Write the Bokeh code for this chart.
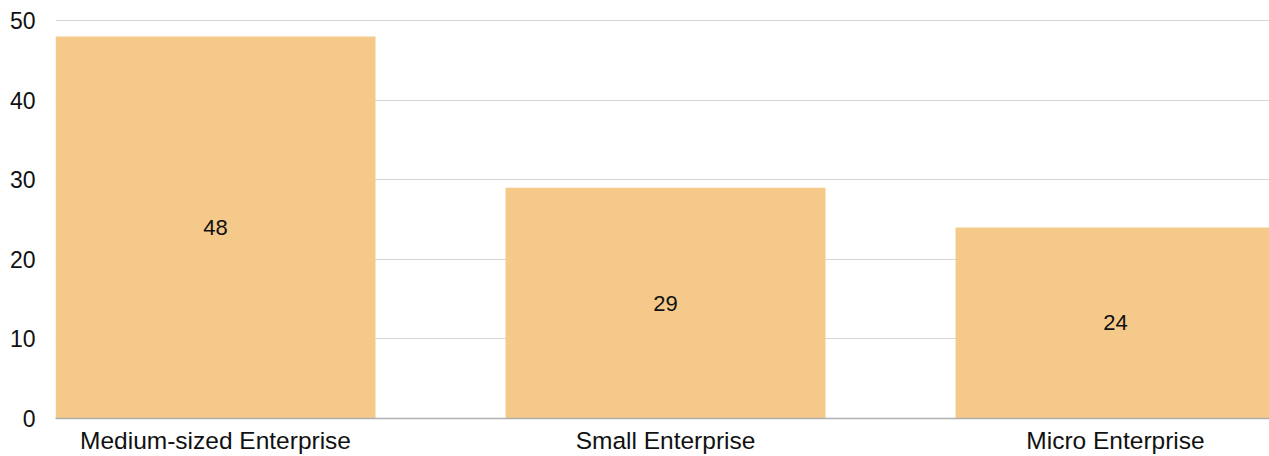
from bokeh.plotting import figure
from bokeh.models import ColumnDataSource, FixedTicker, Range1d
from bokeh.core.properties import value
from bokeh.embed import file_html
from bokeh.resources import INLINE

categories = ["Medium-sized Enterprise", "Small Enterprise", "Micro Enterprise"]
values = [48, 29, 24]
y_ticks = [0, 10, 20, 30, 40, 50]

xs = list(range(len(categories)))
src = ColumnDataSource(dict(
    x=xs,
    top=values,
    mid=[v / 2 for v in values],
    label=[str(v) for v in values],
))

FONT = "Liberation Sans"

p = figure(width=1269, height=456, output_backend="svg", toolbar_location=None,
           x_range=Range1d(-0.3556, 2.3422), y_range=Range1d(0, 50.12),
           min_border_left=55, min_border_right=0, min_border_top=19, min_border_bottom=36)
p.outline_line_color = None
p.background_fill_color = "white"
p.border_fill_color = "white"

p.vbar(x="x", top="top", width=0.711, bottom=0, source=src,
       fill_color="#F5C98A", line_color=None)
p.text(x="x", y="mid", text="label", source=src, text_align="center",
       text_baseline="middle", text_font=value(FONT), text_font_size="22px",
       text_color="#111111")

# grid
p.xgrid.grid_line_color = None
p.ygrid.grid_line_color = "#d6d6d6"
p.ygrid.grid_line_width = 1
p.yaxis.ticker = FixedTicker(ticks=y_ticks)
p.xaxis.ticker = FixedTicker(ticks=xs)
p.xaxis.major_label_overrides = {i: c for i, c in enumerate(categories)}

for ax in (p.xaxis, p.yaxis):
    ax.major_tick_line_color = None
    ax.minor_tick_line_color = None
    ax.major_label_text_font = FONT
    ax.major_label_text_color = "#111111"

p.yaxis.axis_line_color = None
p.yaxis.major_label_text_font_size = "23px"
p.yaxis.major_label_standoff = 14
p.xaxis.axis_line_color = "#b0b0b0"
p.xaxis.axis_line_width = 1.5
p.xaxis.major_label_text_font_size = "24.5px"
p.xaxis.major_label_standoff = 2

open("out.html", "w").write(file_html(p, INLINE))
